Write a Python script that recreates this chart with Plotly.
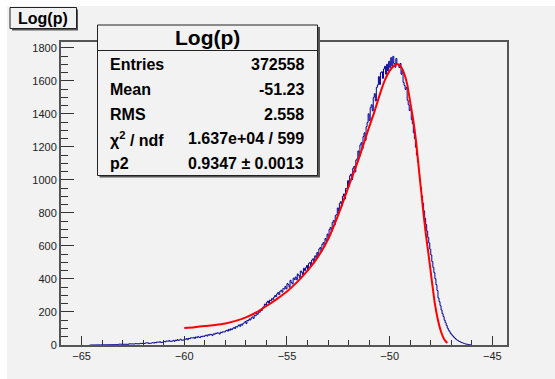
import numpy as np
import plotly.graph_objects as go

# ---- histogram of Log(p): bins of width 0.05 starting at -64.6 ----
bin_start = -64.6
bin_width = 0.05
counts = [
    0, 0, 1, 0, 0, 1, 0, 2, 0, 1,
    1, 0, 2, 1, 0, 3, 1, 2, 0, 2,
    2, 3, 1, 2, 4, 1, 3, 2, 5, 2,
    3, 4, 2, 5, 3, 6, 2, 4, 7, 3,
    5, 7, 4, 6, 8, 5, 9, 6, 7, 10,
    8, 11, 7, 9, 12, 10, 14, 9, 13, 11,
    12, 15, 11, 16, 13, 18, 14, 17, 20, 15,
    19, 17, 22, 18, 24, 20, 23, 27, 21, 25,
    24, 28, 22, 30, 26, 33, 27, 31, 35, 29,
    33, 30, 37, 34, 39, 32, 41, 38, 44, 40,
    42, 46, 40, 49, 45, 52, 47, 44, 53, 50,
    55, 51, 58, 60, 54, 63, 59, 66, 62, 57,
    68, 64, 72, 69, 75, 71, 66, 78, 74, 80,
    82, 79, 86, 90, 84, 95, 89, 98, 93, 101,
    106, 100, 112, 108, 116, 122, 113, 126, 120, 131,
    135, 142, 130, 150, 146, 158, 152, 164, 170, 161,
    180, 176, 192, 186, 203, 198, 214, 209, 226, 232,
    248, 242, 258, 266, 254, 272, 268, 281, 276, 290,
    300, 292, 310, 318, 305, 326, 331, 320, 342, 338,
    355, 340, 372, 365, 350, 392, 378, 370, 405, 396,
    412, 395, 430, 422, 408, 448, 440, 425, 465, 450,
    468, 482, 455, 495, 500, 478, 515, 522, 498, 540,
    530, 560, 540, 582, 590, 565, 610, 620, 598, 645,
    632, 672, 650, 700, 712, 688, 742, 755, 728, 785,
    790, 830, 800, 858, 868, 842, 900, 915, 885, 948,
    950, 995, 962, 1025, 1035, 1002, 1070, 1082, 1048, 1120,
    1128, 1175, 1140, 1212, 1225, 1188, 1262, 1285, 1240, 1322,
    1348, 1400, 1360, 1438, 1455, 1418, 1500, 1522, 1478, 1560,
    1575, 1625, 1578, 1650, 1655, 1615, 1672, 1688, 1640, 1700,
    1660, 1718, 1680, 1740, 1690, 1748, 1705, 1682, 1735, 1700,
    1696, 1680, 1705, 1640, 1665, 1590, 1572, 1548, 1560, 1482,
    1455, 1420, 1430, 1365, 1340, 1285, 1250, 1198, 1150, 1108,
    1060, 1002, 955, 902, 858, 812, 768, 730, 690, 652,
    618, 580, 545, 505, 470, 438, 402, 365, 330, 285,
    262, 238, 212, 190, 172, 150, 135, 118, 102, 90,
    80, 70, 62, 55, 48, 42, 36, 31, 27, 23,
    20, 17, 14, 12, 9, 7, 5, 4, 3, 2,
    1, 0,
]

# ---- fitted function, sampled over the fit range ----
fit_x = [-60, -59.5, -59, -58.5, -58, -57.5, -57, -56.5, -56, -55.5, -55,
         -54.5, -54, -53.5, -53, -52.5, -52, -51.5, -51, -50.75, -50.5,
         -50.25, -50, -49.75, -49.6, -49.45, -49.3, -49.15, -49.0, -48.85,
         -48.7, -48.55, -48.4, -48.25, -48.1, -47.95, -47.8, -47.65, -47.5,
         -47.35, -47.2]
fit_y = [103, 108, 115, 121, 130, 146, 167, 197, 236, 278, 324,
         382, 450, 532, 640, 790, 960, 1130, 1320, 1410, 1510,
         1600, 1662, 1695, 1700, 1685, 1645, 1580, 1470, 1360,
         1215, 1030, 850, 680, 540, 390, 250, 150, 80,
         35, 12]

# ---- statistics box ----
stat_title = "Log(p)"
stat_labels = ["Entries", "Mean", "RMS", "χ<sup>2</sup> / ndf", "p2"]
stat_values = ["372558", "-51.23", "2.558", "1.637e+04 / 599", "0.9347 ± 0.0013"]

x_range = [-66.0, -44.29]
y_range = [0, 1835]

W, H = 555, 379
L, R, T, B = 61, 48, 42, 34
pw, ph = W - L - R, H - T - B


def px(x):
    return (x - L) / pw


def py(y):
    return (H - B - y) / ph


edges = bin_start + bin_width * np.arange(len(counts) + 1)
hx = np.repeat(edges, 2)[1:-1]
hy = np.repeat(counts, 2)

fig = go.Figure()
fig.add_trace(go.Scatter(
    x=hx, y=hy, mode="lines",
    line=dict(color="#000099", width=1),
    hoverinfo="skip", showlegend=False,
))
fig.add_trace(go.Scatter(
    x=fit_x, y=fit_y, mode="lines",
    line=dict(color="#ff0000", width=2, shape="spline", smoothing=0.6),
    hoverinfo="skip", showlegend=False,
))

font = "Liberation Sans, Arial, Helvetica, sans-serif"
axis_common = dict(
    showgrid=False, zeroline=False,
    showline=True, linecolor="#555555", linewidth=2, mirror=True,
    ticks="inside", tickcolor="#333333", tickwidth=1,
    tickfont=dict(family=font, size=11, color="#222222"),
)

fig.update_xaxes(
    range=x_range, tickmode="linear", tick0=-65, dtick=5, ticklen=9,
    minor=dict(ticks="inside", dtick=1, tick0=-65, ticklen=5,
               tickcolor="#333333", tickwidth=1),
    **axis_common,
)
fig.update_yaxes(
    range=y_range, tickmode="linear", tick0=0, dtick=200, ticklen=13,
    minor=dict(ticks="inside", dtick=50, tick0=0, ticklen=7,
               tickcolor="#333333", tickwidth=1),
    **axis_common,
)

bg = "#f2f2f2"
shapes = [
    # white strip along the left and top canvas edges
    dict(type="rect", xref="paper", yref="paper", x0=px(0), x1=px(W),
         y0=py(0), y1=py(6), fillcolor="white", line_width=0, layer="below"),
    dict(type="rect", xref="paper", yref="paper", x0=px(0), x1=px(7),
         y0=py(0), y1=py(H), fillcolor="white", line_width=0, layer="below"),
    # title box: shadow then box
    dict(type="rect", xref="paper", yref="paper", x0=px(12), x1=px(78),
         y0=py(9.5), y1=py(30.5), fillcolor="#555555", line_width=0, layer="above"),
    dict(type="rect", xref="paper", yref="paper", x0=px(10), x1=px(76.5),
         y0=py(7.5), y1=py(28.5), fillcolor=bg,
         line=dict(color="#222222", width=1), layer="above"),
    # stats box: shadow then box
    dict(type="rect", xref="paper", yref="paper", x0=px(99.5), x1=px(320),
         y0=py(27), y1=py(177.5), fillcolor="#555555", line_width=0, layer="above"),
    dict(type="rect", xref="paper", yref="paper", x0=px(97.5), x1=px(317.5),
         y0=py(25), y1=py(175.5), fillcolor=bg,
         line=dict(color="#222222", width=1), layer="above"),
    dict(type="line", xref="paper", yref="paper", x0=px(97.5), x1=px(317.5),
         y0=py(50.5), y1=py(50.5), line=dict(color="#222222", width=1), layer="above"),
]

annotations = [
    dict(text="<b>Log(p)</b>", x=px(43.2), y=py(18.3), xref="paper", yref="paper",
         showarrow=False, xanchor="center", yanchor="middle",
         font=dict(family=font, size=16, color="black")),
    dict(text="<b>" + stat_title + "</b>", x=px(207.5), y=py(37.5),
         xref="paper", yref="paper", showarrow=False,
         xanchor="center", yanchor="middle",
         font=dict(family=font, size=21, color="black")),
]
row_y = [64.3, 89.3, 114.3, 138.5, 163.3]
for lab, val, yy in zip(stat_labels, stat_values, row_y):
    annotations.append(dict(
        text="<b>" + lab + "</b>", x=px(108.3), y=py(yy), xref="paper", yref="paper",
        showarrow=False, xanchor="left", yanchor="middle",
        font=dict(family=font, size=16, color="black")))
    annotations.append(dict(
        text="<b>" + val + "</b>", x=px(305.5), y=py(yy), xref="paper", yref="paper",
        showarrow=False, xanchor="right", yanchor="middle",
        font=dict(family=font, size=16, color="black")))

fig.update_layout(
    width=W, height=H,
    margin=dict(l=L, r=R, t=T, b=B, pad=0),
    paper_bgcolor=bg, plot_bgcolor=bg,
    shapes=shapes, annotations=annotations,
    showlegend=False,
)

fig.write_html("out.html", config={"displayModeBar": False})
